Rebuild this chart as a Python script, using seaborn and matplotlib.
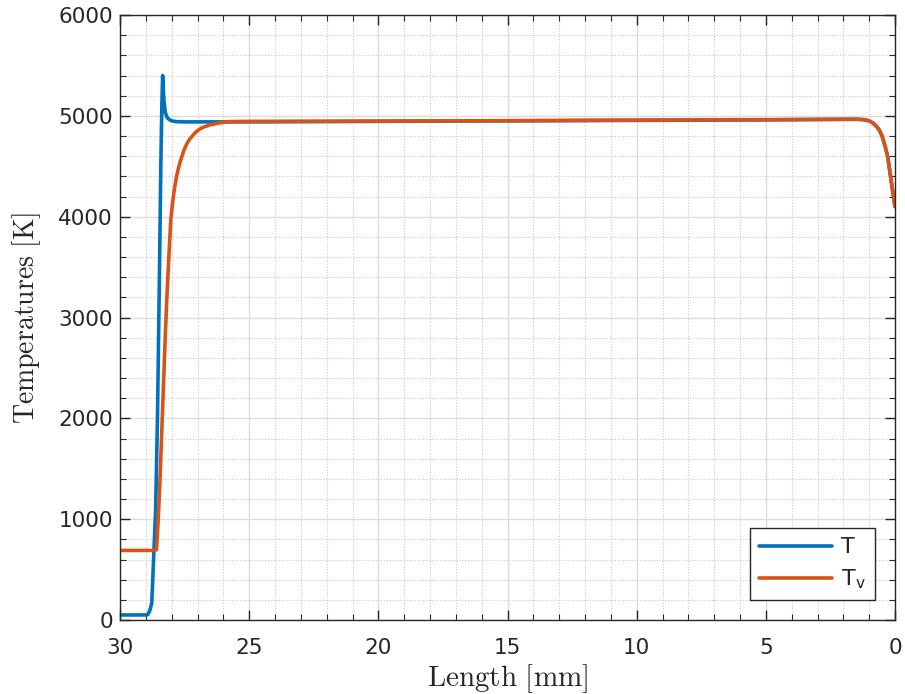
import numpy as np
import pandas as pd
import matplotlib
matplotlib.use("Agg")
import matplotlib.pyplot as plt
import seaborn as sns
from matplotlib.ticker import MultipleLocator

# ---- data ----
x_T = [30, 29.5, 29.0, 28.92, 28.85, 28.77, 28.70, 28.62, 28.55, 28.48, 28.42, 28.38, 28.35,
       28.30, 28.25, 28.2, 28.13, 28.0, 27.8, 27.5, 27.0, 26.0, 25.0, 20.0, 15.0, 10.0, 5.0,
       2.0, 1.5, 1.2, 1.0, 0.85, 0.71, 0.6, 0.5, 0.38, 0.28, 0.19, 0.1, 0.0]
T = [50, 50, 50, 55, 90, 170, 600, 1100, 2000, 3300, 4500, 5100, 5400,
     5150, 5040, 4995, 4970, 4950, 4942, 4940, 4940, 4940, 4940, 4945, 4950, 4955, 4960,
     4965, 4966, 4962, 4950, 4928, 4894, 4855, 4800, 4696, 4590, 4431, 4270, 4100]

x_Tv = [30, 29.5, 29.0, 28.7, 28.6, 28.58, 28.52, 28.45, 28.35, 28.25, 28.19, 28.1, 28.03,
        27.95, 27.88, 27.81, 27.73, 27.65, 27.52, 27.4, 27.3, 27.1, 26.95, 26.8, 26.52,
        26.1, 25.74, 25.0, 20.0, 15.0, 10.0, 5.0, 2.0, 1.5, 1.2, 1.0, 0.85, 0.71, 0.6,
        0.5, 0.38, 0.28, 0.19, 0.1, 0.0]
Tv = [690, 690, 690, 690, 695, 720, 1000, 1400, 2100, 2800, 3175, 3650, 3980,
      4170, 4300, 4400, 4490, 4560, 4663, 4730, 4770, 4830, 4862, 4885, 4910,
      4932, 4943, 4945, 4948, 4952, 4958, 4962, 4966, 4966, 4962, 4950, 4928, 4894, 4855,
      4800, 4696, 4590, 4431, 4270, 4100]

labels = ["T", r"T$_\mathregular{v}$"]
colors = ["#0072BD", "#D95319"]

df = pd.concat([
    pd.DataFrame({"Length": x_T, "Temp": T, "series": labels[0]}),
    pd.DataFrame({"Length": x_Tv, "Temp": Tv, "series": labels[1]}),
], ignore_index=True)

sns.set_theme(style="white")
plt.rcParams["font.family"] = ["DejaVu Sans"]
plt.rcParams["mathtext.fontset"] = "cm"

fig = plt.figure(figsize=(9.05, 6.94), dpi=100)
ax = fig.add_axes([120/905, 74/694, 775/905, 605/694])

sns.lineplot(data=df, x="Length", y="Temp", hue="series", palette=colors,
             estimator=None, sort=False, linewidth=2.6, ax=ax)

ax.set_xlim(30, 0)
ax.set_ylim(0, 6000)
ax.xaxis.set_major_locator(MultipleLocator(5))
ax.xaxis.set_minor_locator(MultipleLocator(1))
ax.yaxis.set_major_locator(MultipleLocator(1000))
ax.yaxis.set_minor_locator(MultipleLocator(200))

ax.grid(True, which="major", color="#dcdcdc", linewidth=1.0, linestyle="-")
ax.grid(True, which="minor", color="#c8c8c8", linewidth=0.8, linestyle=(0, (1, 1.5)))
ax.set_axisbelow(True)

for s in ax.spines.values():
    s.set_color("#262626")
    s.set_linewidth(1.0)
    s.set_visible(True)

ax.tick_params(which="both", direction="in", top=True, right=True, bottom=True, left=True,
               colors="#262626", labelcolor="#262626")
ax.tick_params(which="major", length=7, width=1.0, labelsize=15.5)
ax.tick_params(which="minor", length=4, width=0.8)
ax.tick_params(axis="x", pad=13)
ax.tick_params(axis="y", pad=5)

ax.set_xlabel(r"$\mathrm{Length\ [mm]}$", fontsize=21, labelpad=3)
ax.set_ylabel(r"$\mathrm{Temperatures\ [K]}$", fontsize=20, labelpad=11)

leg = ax.legend(loc="lower right", fontsize=16, frameon=True, fancybox=False,
                edgecolor="#262626", framealpha=1, handlelength=3.3, handletextpad=0.4,
                borderaxespad=0.9, labelspacing=0.45, borderpad=0.4)
leg.get_frame().set_linewidth(1.0)
for line in leg.get_lines():
    line.set_linewidth(2.6)

fig.savefig("out.png", dpi=100)
